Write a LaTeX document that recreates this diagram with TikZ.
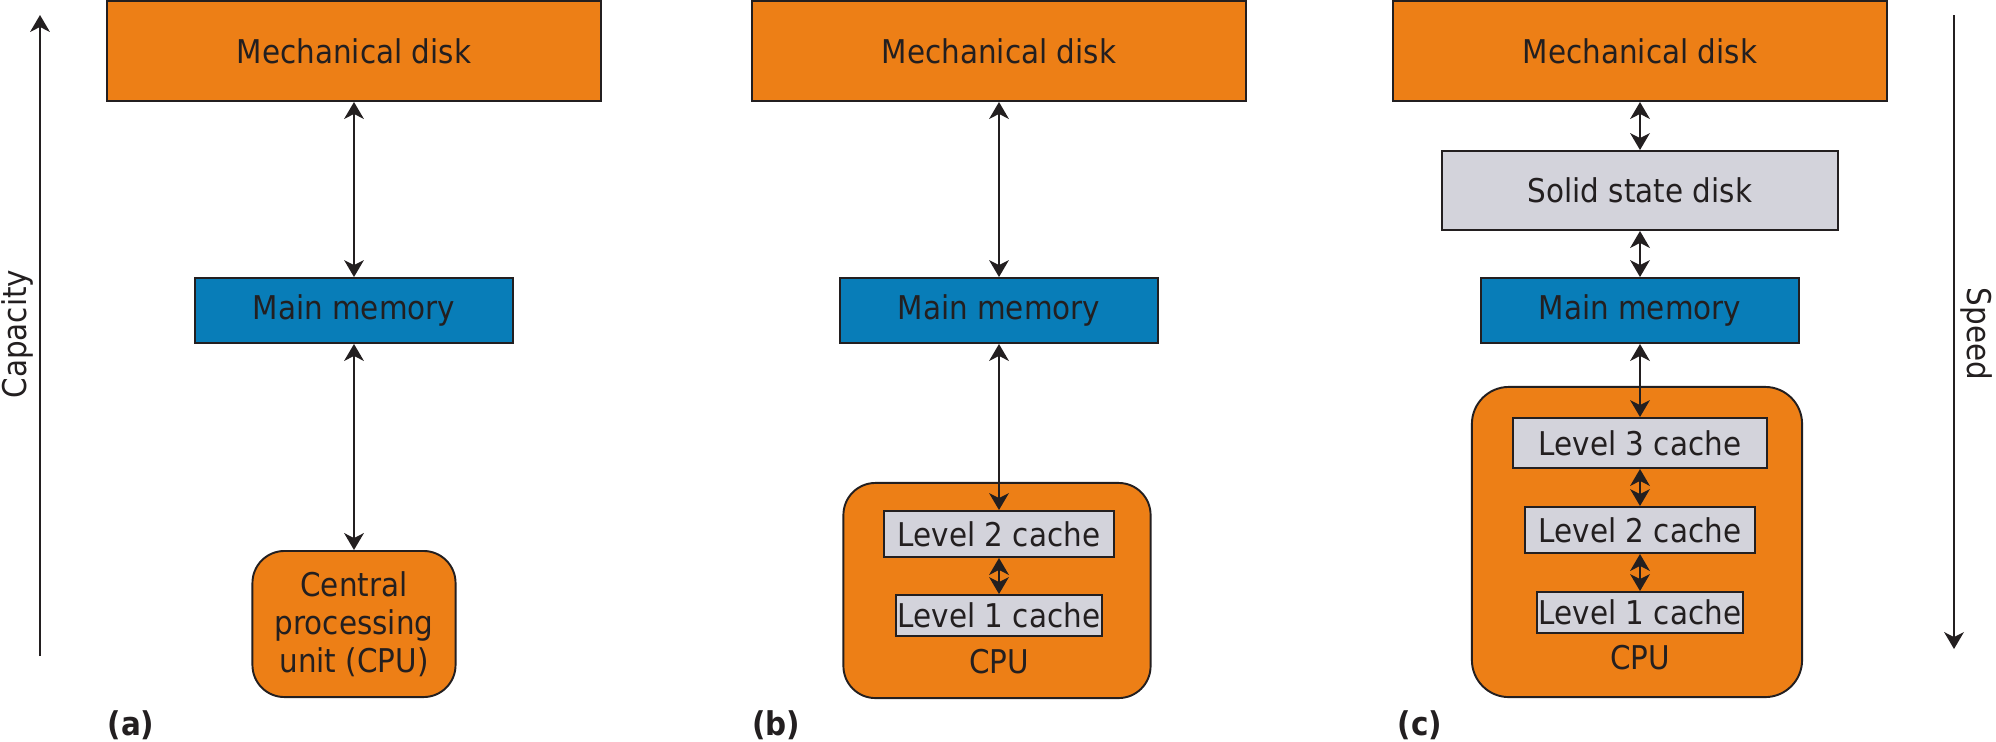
\documentclass[tikz,border=0pt]{standalone}
\usepackage{fontspec}
\setmainfont{DejaVu Sans}[FakeStretch=0.9]
\usetikzlibrary{arrows.meta}
\definecolor{diskorange}{RGB}{237, 127, 22}
\definecolor{memoryblue}{RGB}{8, 125, 184}
\definecolor{cachegray}{RGB}{211, 211, 219}
\definecolor{outline}{RGB}{35, 31, 32}

\begin{document}
\begin{tikzpicture}[x=0.01cm, y=-0.01cm, font=\fontsize{9.3}{10.8}\selectfont, text=outline,
		box/.style={draw=outline, line width=0.55pt, inner sep=0pt},
		disk/.style={box, fill=diskorange, minimum width=4.94cm, minimum height=1cm},
		memory/.style={box, fill=memoryblue, minimum width=3.17cm, minimum height=0.65cm},
		ssd/.style={box, fill=cachegray, minimum width=3.96cm, minimum height=0.79cm},
		cache/.style={box, fill=cachegray},
		cpu/.style={box, fill=diskorange, rounded corners=0.32cm},
		link/.style={draw=outline, line width=0.6pt, {Stealth[length=4.8pt, width=5.6pt, inset=1.4pt]}-{Stealth[length=4.8pt, width=5.6pt, inset=1.4pt]}},
		axis/.style={draw=outline, line width=0.6pt, -{Stealth[length=4.8pt, width=5.6pt, inset=1.4pt]}},
		panel/.style={font=\bfseries\fontsize{9.3}{10.8}\selectfont}]
	\useasboundingbox (0, 0) rectangle (1996, 741);

	% side arrows
	\coordinate (captop) at (40, 15);
	\coordinate (capbottom) at (40, 656);
	\draw[axis] (capbottom) -- (captop);
	\node[rotate=90] (capacity) at (17, 334) {Capacity};
	\coordinate (speedtop) at (1954, 15);
	\coordinate (speedbottom) at (1954, 649);
	\draw[axis] (speedtop) -- (speedbottom);
	\node[rotate=-90] (speed) at (1977, 334) {Speed};

	% (a)
	\node[disk] (diskA) at (354, 51) {Mechanical disk};
	\node[memory] (memA) at (354, 310.5) {Main memory};
	\node[cpu, minimum width=2.03cm, minimum height=1.46cm, align=center] (cpuA) at (354, 624) {Central\\processing\\unit (CPU)};
	\draw[link] (diskA) -- (memA);
	\draw[link] (memA) -- (cpuA);
	\node[panel] (labelA) at (131, 725) {(a)};

	% (b)
	\node[disk] (diskB) at (999, 51) {Mechanical disk};
	\node[memory] (memB) at (999, 310.5) {Main memory};
	\node[cpu, minimum width=3.07cm, minimum height=2.15cm] (cpuB) at (997, 590.5) {};
	\node[cache, minimum width=2.29cm, minimum height=0.46cm] (ltwoB) at (999, 534) {Level 2 cache};
	\node[cache, minimum width=2.06cm, minimum height=0.41cm] (loneB) at (999, 615.5) {Level 1 cache};
	\node (cpulabelB) at (999, 662) {CPU};
	\draw[link] (diskB) -- (memB);
	\draw[link] (memB) -- (ltwoB);
	\draw[link] (ltwoB) -- (loneB);
	\node[panel] (labelB) at (776, 725) {(b)};

	% (c)
	\node[disk] (diskC) at (1640, 51) {Mechanical disk};
	\node[ssd] (ssdC) at (1640, 190.5) {Solid state disk};
	\node[memory] (memC) at (1640, 310.5) {Main memory};
	\node[cpu, minimum width=3.30cm, minimum height=3.10cm, rounded corners=0.37cm] (cpuC) at (1637, 542) {};
	\node[cache, minimum width=2.54cm, minimum height=0.5cm] (lthreeC) at (1640, 443) {Level 3 cache};
	\node[cache, minimum width=2.29cm, minimum height=0.46cm] (ltwoC) at (1640, 530) {Level 2 cache};
	\node[cache, minimum width=2.06cm, minimum height=0.41cm] (loneC) at (1640, 612.5) {Level 1 cache};
	\node (cpulabelC) at (1640, 658) {CPU};
	\draw[link] (diskC) -- (ssdC);
	\draw[link] (ssdC) -- (memC);
	\draw[link] (memC) -- (lthreeC);
	\draw[link] (lthreeC) -- (ltwoC);
	\draw[link] (ltwoC) -- (loneC);
	\node[panel] (labelC) at (1420, 725) {(c)};
\end{tikzpicture}
\end{document}
